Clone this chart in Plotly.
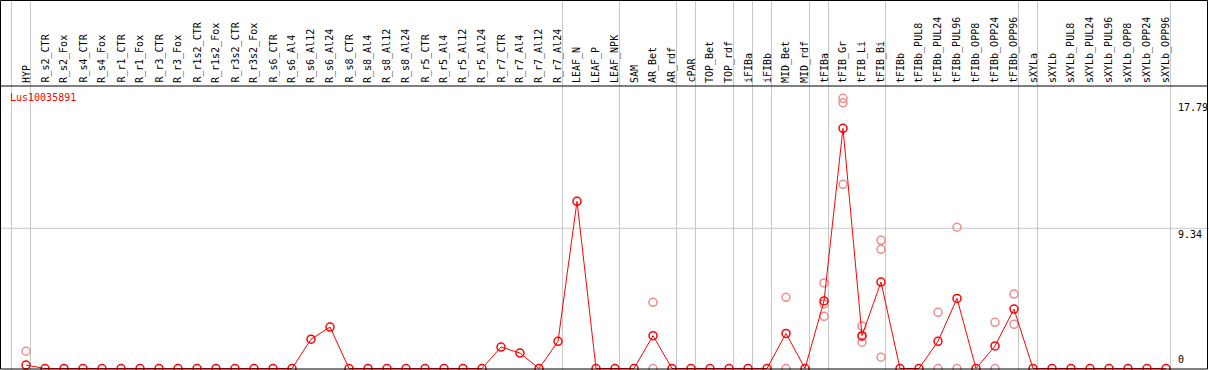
import plotly.graph_objects as go

W, H = 1209, 370

categories = ["HYP", "R_s2_CTR", "R_s2_Fox", "R_s4_CTR", "R_s4_Fox", "R_r1_CTR", "R_r1_Fox",
              "R_r3_CTR", "R_r3_Fox", "R_r1s2_CTR", "R_r1s2_Fox", "R_r3s2_CTR", "R_r3s2_Fox",
              "R_s6_CTR", "R_s6_Al4", "R_s6_Al12", "R_s6_Al24", "R_s8_CTR", "R_s8_Al4", "R_s8_Al12",
              "R_s8_Al24", "R_r5_CTR", "R_r5_Al4", "R_r5_Al12", "R_r5_Al24", "R_r7_CTR", "R_r7_Al4",
              "R_r7_Al12", "R_r7_Al24", "LEAF_N", "LEAF_P", "LEAF_NPK", "SAM", "AR_Bet", "AR_rdf",
              "cPAR", "TOP_Bet", "TOP_rdf", "iFIBa", "iFIBb", "MID_Bet", "MID_rdf", "tFIBa",
              "tFIB_Gr", "tFIB_Li", "tFIB_Bi", "tFIBb", "tFIBb_PUL8", "tFIBb_PUL24", "tFIBb_PUL96",
              "tFIBb_OPP8", "tFIBb_OPP24", "tFIBb_OPP96", "sXYLa", "sXYLb", "sXYLb_PUL8",
              "sXYLb_PUL24", "sXYLb_PUL96", "sXYLb_OPP8", "sXYLb_OPP24", "sXYLb_OPP96"]

mean_values = [0.23, 0, 0, 0, 0, 0, 0, 0, 0, 0, 0, 0, 0, 0, 0, 1.95, 2.76, 0, 0, 0,
               0, 0, 0, 0, 0, 1.43, 1.03, 0, 1.81, 11.14, 0, 0, 0, 2.19, 0, 0, 0, 0, 0, 0,
               2.34, 0, 4.50, 16.0, 2.19, 5.76, 0, 0, 1.81, 4.67, 0, 1.50, 3.96, 0, 0, 0,
               0, 0, 0, 0, 0]

rep_categories = ["HYP", "AR_Bet", "AR_Bet", "MID_Bet", "MID_Bet",
                  "tFIBa", "tFIBa", "tFIBa", "tFIB_Gr", "tFIB_Gr", "tFIB_Gr",
                  "tFIB_Li", "tFIB_Li", "tFIB_Li", "tFIB_Bi", "tFIB_Bi", "tFIB_Bi",
                  "tFIBb_PUL24", "tFIBb_PUL24", "tFIBb_PUL96", "tFIBb_PUL96",
                  "tFIBb_OPP24", "tFIBb_OPP24", "tFIBb_OPP96", "tFIBb_OPP96"]
rep_values = [1.15, 4.41, 0, 4.74, 0,
              5.70, 4.30, 3.48, 18.0, 17.7, 12.27,
              2.83, 2.12, 1.75, 8.54, 7.94, 0.75,
              3.74, 0, 9.41, 0,
              3.08, 0, 4.96, 2.94]

group_ends = ["HYP", "R_r7_Al24", "LEAF_NPK", "AR_rdf", "cPAR", "TOP_rdf", "iFIBa", "iFIBb",
              "MID_rdf", "tFIBa", "tFIB_Bi", "tFIBb_OPP96", "sXYLa", "sXYLb_OPP96"]

axis_ticks = [17.79, 9.34, 0]
gene_label = "Lus10035891"

idx = {c: i for i, c in enumerate(categories)}
xs = list(range(len(categories)))
rep_x = [idx[c] for c in rep_categories]

# pixel geometry
px0, step = 26.0, 19.0
zero_py, ppu = 368.5, 15.01
xr = [-px0 / step, -px0 / step + W / step]
yr = [(zero_py - H) / ppu, zero_py / ppu]

def pxp(px):
    return px / W

def pyp(py):
    return 1 - py / H

fig = go.Figure()

fig.add_trace(go.Scatter(x=rep_x, y=rep_values, mode="markers",
                         marker=dict(symbol="circle-open", size=8, color="rgb(240,140,140)",
                                     line=dict(width=1.5, color="rgb(240,140,140)")),
                         showlegend=False, hoverinfo="skip"))
fig.add_trace(go.Scatter(x=xs, y=mean_values, mode="lines+markers",
                         line=dict(color="red", width=1),
                         marker=dict(symbol="circle-open", size=8, color="red",
                                     line=dict(width=1.5, color="red")),
                         showlegend=False))

shapes = []
# vertical group separators
bounds = [-1] + [idx[c] for c in group_ends]
for b in bounds:
    xb = b + 4.5 / step
    shapes.append(dict(type="line", xref="x", yref="paper", x0=xb, x1=xb, y0=0, y1=1,
                       line=dict(color="rgb(200,200,200)", width=1), layer="below"))
# horizontal grid at middle tick
shapes.append(dict(type="line", xref="paper", yref="y", x0=0, x1=1, y0=axis_ticks[1], y1=axis_ticks[1],
                   line=dict(color="rgb(200,200,200)", width=1), layer="below"))
# frame
shapes.append(dict(type="rect", xref="paper", yref="paper", x0=pxp(0.5), x1=pxp(1207.5),
                   y0=pyp(369), y1=pyp(0.5), line=dict(color="black", width=1)))
shapes.append(dict(type="line", xref="paper", yref="paper", x0=pxp(0.5), x1=pxp(1207.5),
                   y0=pyp(86), y1=pyp(86), line=dict(color="black", width=1)))

annotations = []
for i, c in enumerate(categories):
    annotations.append(dict(x=i, xref="x", y=pyp(84), yref="paper", text=c, textangle=-90,
                            showarrow=False, xanchor="center", yanchor="bottom",
                            font=dict(family="DejaVu Sans Mono", size=10, color="black"),
                            borderpad=0))
annotations.append(dict(x=pxp(9), xref="paper", y=pyp(91), yref="paper", text=gene_label,
                        showarrow=False, xanchor="left", yanchor="top",
                        font=dict(family="DejaVu Sans Mono", size=10, color="red"), borderpad=0))
for t in axis_ticks:
    if t == 0:
        annotations.append(dict(x=pxp(1177), xref="paper", y=t, yref="y", yshift=3,
                                text=f"{t:g}", showarrow=False, xanchor="left", yanchor="bottom",
                                font=dict(family="DejaVu Sans Mono", size=10, color="black"),
                                borderpad=0))
    else:
        annotations.append(dict(x=pxp(1177), xref="paper", y=t, yref="y",
                                text=f"{t:.2f}", showarrow=False, xanchor="left", yanchor="top",
                                font=dict(family="DejaVu Sans Mono", size=10, color="black"),
                                borderpad=0))

fig.update_layout(width=W, height=H, margin=dict(l=0, r=0, t=0, b=0),
                  paper_bgcolor="white", plot_bgcolor="white",
                  xaxis=dict(range=xr, showgrid=False, zeroline=False, showticklabels=False,
                             fixedrange=True),
                  yaxis=dict(range=yr, showgrid=False, zeroline=False, showticklabels=False,
                             fixedrange=True),
                  shapes=shapes, annotations=annotations, showlegend=False)

fig.write_html("out.html", config={"displayModeBar": False},
               post_script="document.body.style.margin='0px';document.body.style.overflow='hidden';")
